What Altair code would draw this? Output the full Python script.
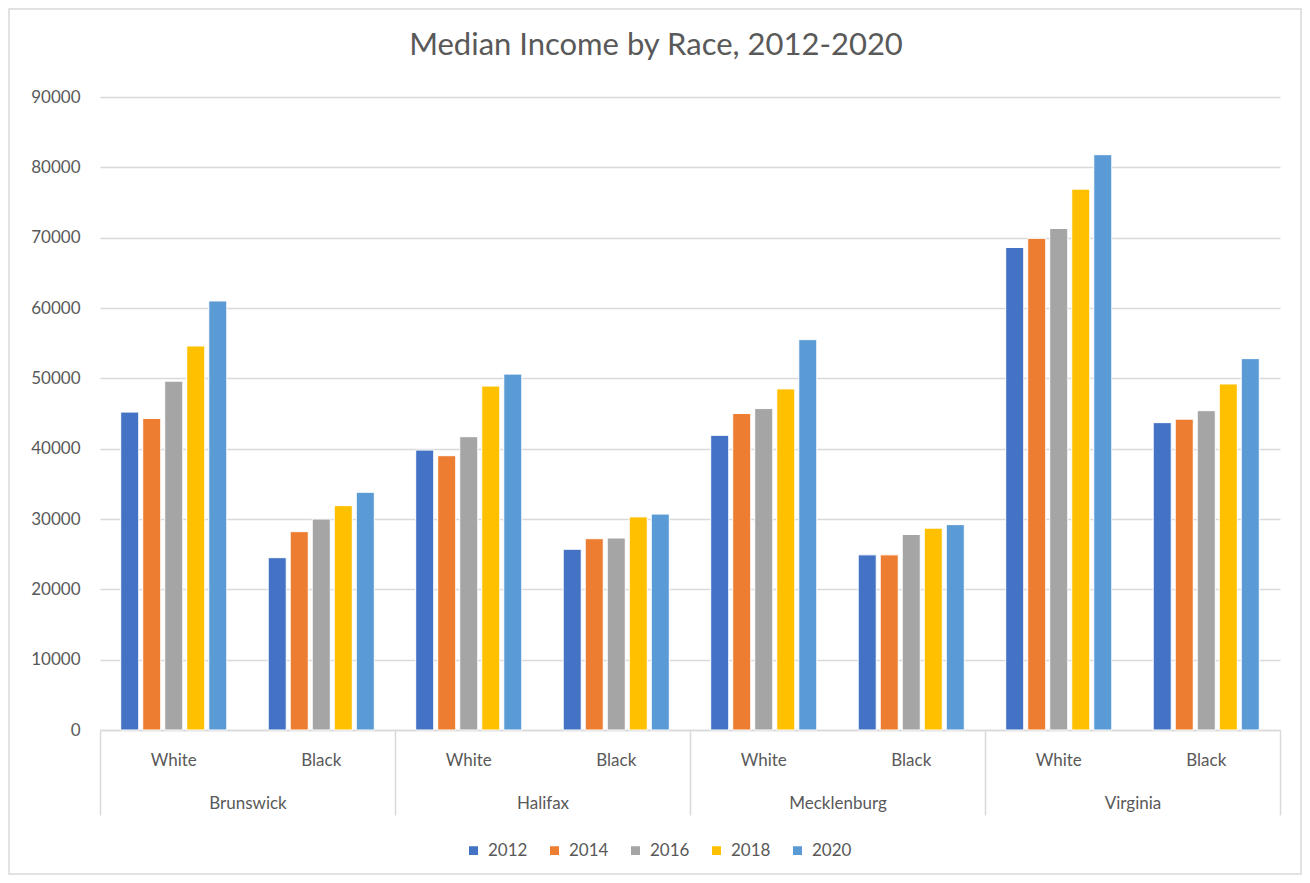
import altair as alt
import pandas as pd

counties = ["Brunswick", "Halifax", "Mecklenburg", "Virginia"]
races = ["White", "Black"]
years = ["2012", "2014", "2016", "2018", "2020"]
colors = ["#4472C4", "#ED7D31", "#A5A5A5", "#FFC000", "#5B9BD5"]

# values per (county, race) group, in order Brunswick W/B, Halifax W/B, Mecklenburg W/B, Virginia W/B
income_2012 = [45200, 24500, 39800, 25700, 41900, 24900, 68600, 43700]
income_2014 = [44300, 28200, 39000, 27200, 45000, 24900, 69900, 44200]
income_2016 = [49600, 30000, 41700, 27300, 45700, 27800, 71300, 45400]
income_2018 = [54600, 31900, 48900, 30300, 48500, 28700, 76900, 49200]
income_2020 = [61000, 33800, 50600, 30700, 55500, 29200, 81800, 52800]

series = [income_2012, income_2014, income_2016, income_2018, income_2020]
groups = [f"{c}|{r}" for c in counties for r in races]

rows = []
for y, vals in zip(years, series):
    for g, v in zip(groups, vals):
        rows.append({"Group": g, "Year": y, "Income": v})
df = pd.DataFrame(rows)
county_df = pd.DataFrame({"County": counties})
frame_df = pd.DataFrame({"k": [0]})

FONT = "Lato"
TXT = "#595959"
GRID = "#d9d9d9"
W, H = 1180, 633
PL, PT, PR, PB = 92, 89, 22, 145

border = alt.Chart(frame_df).mark_rect(fillOpacity=0, stroke=GRID, strokeWidth=1.5).encode(
    x=alt.value(-PL + 1), x2=alt.value(W + PR - 1),
    y=alt.value(-PT + 1), y2=alt.value(H + PB - 1),
)

bars = alt.Chart(df).mark_bar(stroke="white", strokeWidth=1).encode(
    x=alt.X("Group:N", sort=groups,
            scale=alt.Scale(paddingInner=0, paddingOuter=0),
            axis=alt.Axis(orient="bottom", title=None, ticks=False, labelPadding=22,
                          labelAngle=0, labelExpr="split(datum.value, '|')[1]",
                          domainColor=GRID, domainWidth=1.5, grid=False,
                          labelFontSize=17, labelColor=TXT, labelFont=FONT)),
    xOffset=alt.XOffset("Year:N", sort=years,
                        scale=alt.Scale(paddingInner=0.18, paddingOuter=0.94)),
    y=alt.Y("Income:Q", scale=alt.Scale(domain=[0, 90000]),
            axis=alt.Axis(title=None, values=list(range(0, 90001, 10000)), format="d",
                          ticks=False, domain=False, labelPadding=20,
                          gridColor=GRID, gridWidth=1.5,
                          labelFontSize=17, labelColor=TXT, labelFont=FONT)),
    color=alt.Color("Year:N", sort=years, scale=alt.Scale(domain=years, range=colors),
                    legend=alt.Legend(orient="none", legendX=365, legendY=745,
                                      direction="horizontal", title=None,
                                      symbolType="square", symbolSize=110,
                                      labelFontSize=17, labelColor=TXT, labelFont=FONT,
                                      columnPadding=18, labelOffset=6)),
)

county_axis = alt.Chart(county_df).mark_text(opacity=0, text=" ").encode(
    x=alt.X("County:N", sort=counties,
            scale=alt.Scale(type="band", paddingInner=0, paddingOuter=0),
            axis=alt.Axis(orient="bottom", title=None, domain=False,
                          tickBand="extent", tickSize=85, tickColor=GRID, tickWidth=1.5,
                          labelPadding=-20, labelAngle=0,
                          labelFontSize=17, labelColor=TXT, labelFont=FONT)),
)

chart = alt.layer(border, bars, county_axis).resolve_scale(x="independent").properties(
    width=W, height=H,
    autosize=alt.AutoSizeParams(type="none"),
    padding={"left": PL, "top": PT, "right": PR, "bottom": PB},
    title=alt.TitleParams("Median Income by Race, 2012-2020", fontSize=31, font=FONT,
                          fontWeight="normal", color=TXT, anchor="middle", frame="group",
                          offset=-54, dx=-34),
    background="white",
).configure_view(stroke=None)

chart.save("out.html", embed_options={"renderer": "svg", "actions": False})
